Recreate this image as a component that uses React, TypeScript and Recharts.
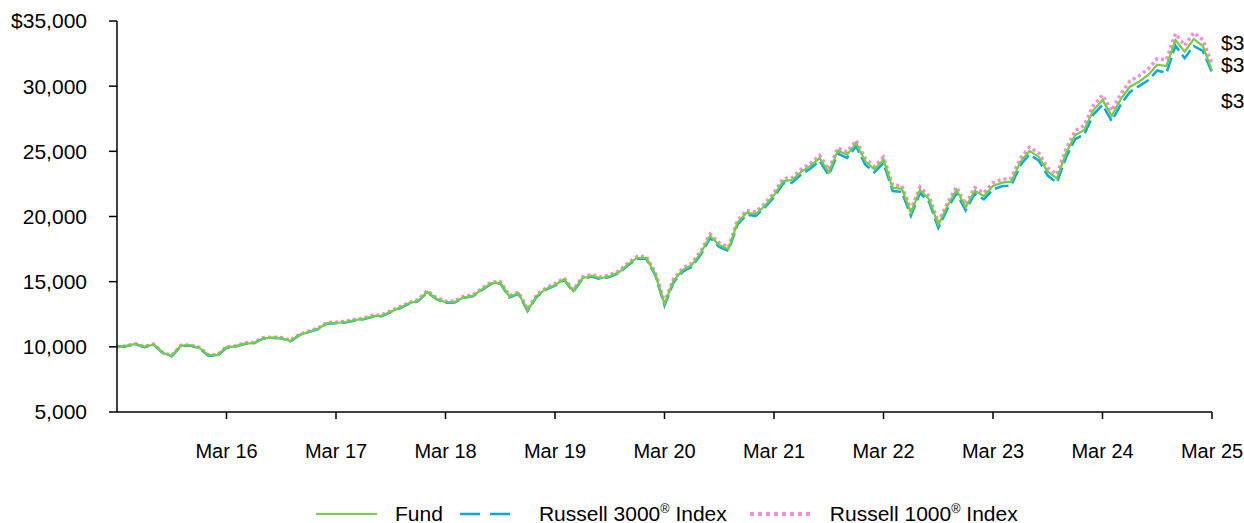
import React from "react";
import { LineChart, Line, XAxis, YAxis } from "recharts";

// ---- Data (growth of $10,000, monthly Mar 15 -> Mar 25) ----
const fund = [
  10000, 10060, 10220, 9990, 10190, 9550, 9300, 10090, 10120, 9930, 9370, 9370,
  9960, 10040, 10240, 10290, 10650, 10700, 10670, 10450, 10910, 11140, 11370, 11800,
  11830, 11900, 12040, 12140, 12340, 12390, 12700, 13000, 13340, 13540, 14230, 13690,
  13420, 13440, 13800, 13900, 14410, 14870, 14920, 13850, 14110, 12800, 13900, 14440,
  14750, 15180, 14280, 15260, 15460, 15260, 15430, 15720, 16330, 16820, 16820, 15560,
  13290, 15080, 15900, 16280, 17220, 18500, 17810, 17480, 19530, 20290, 20190, 20830,
  21650, 22720, 22800, 23440, 23880, 24470, 23390, 25050, 24750, 25620, 24240, 23620,
  24340, 22190, 22140, 20290, 22030, 21320, 19350, 20810, 22030, 20700, 21980, 21570,
  22350, 22600, 22670, 24200, 25030, 24590, 23440, 22930, 24850, 26250, 26640, 28170,
  28940, 27710, 28990, 29960, 30340, 30860, 31650, 31550, 33540, 32650, 33620, 33080,
  31190,
];

const russell3000 = [
  10000, 10050, 10210, 9980, 10170, 9530, 9280, 10060, 10090, 9900, 9320, 9320,
  9930, 10020, 10220, 10270, 10630, 10680, 10650, 10420, 10900, 11130, 11350, 11770,
  11800, 11870, 12000, 12110, 12300, 12350, 12670, 12960, 13300, 13500, 14190, 13650,
  13380, 13400, 13770, 13880, 14370, 14830, 14870, 13790, 14060, 12740, 13850, 14400,
  14700, 15120, 14220, 15200, 15400, 15190, 15370, 15660, 16260, 16760, 16750, 15490,
  13170, 14960, 15770, 16160, 17090, 18360, 17660, 17360, 19380, 20120, 20050, 20700,
  21480, 22530, 22600, 23240, 23680, 24260, 23170, 24820, 24500, 25380, 23980, 23400,
  24100, 21950, 21900, 20060, 21800, 21100, 19120, 20580, 21790, 20470, 21740, 21320,
  22080, 22320, 22380, 23930, 24760, 24300, 23140, 22600, 24530, 25930, 26300, 27820,
  28560, 27330, 28580, 29550, 30000, 30450, 31200, 31000, 33100, 32150, 33080, 32700,
  31050,
];

const russell1000 = [
  10000, 10070, 10240, 10010, 10220, 9580, 9330, 10120, 10150, 9960, 9400, 9400,
  10000, 10080, 10290, 10340, 10700, 10750, 10720, 10500, 10960, 11200, 11430, 11860,
  11890, 11960, 12100, 12200, 12410, 12460, 12770, 13070, 13410, 13620, 14310, 13770,
  13500, 13520, 13880, 13980, 14490, 14960, 15010, 13940, 14200, 12890, 13990, 14530,
  14840, 15270, 14370, 15350, 15560, 15360, 15530, 15820, 16430, 16930, 16930, 15670,
  13410, 15210, 16030, 16420, 17360, 18650, 17960, 17630, 19690, 20460, 20360, 21000,
  21830, 22910, 22990, 23640, 24080, 24680, 23600, 25260, 24960, 25840, 24460, 23840,
  24560, 22410, 22370, 20510, 22260, 21550, 19570, 21040, 22260, 20930, 22220, 21810,
  22590, 22850, 22930, 24480, 25310, 24880, 23730, 23230, 25170, 26580, 26990, 28530,
  29320, 28110, 29400, 30390, 30790, 31310, 32100, 32020, 34020, 33120, 34100, 33560,
  31700,
];

const xTicks = [12, 24, 36, 48, 60, 72, 84, 96, 108, 120];
const xTickLabels = ["Mar 16", "Mar 17", "Mar 18", "Mar 19", "Mar 20", "Mar 21", "Mar 22", "Mar 23", "Mar 24", "Mar 25"];
const yTicks = [5000, 10000, 15000, 20000, 25000, 30000, 35000];

const rows = fund.map((v, i) => ({ i, fund: v, r3000: russell3000[i], r1000: russell1000[i] }));

const FONT = '"Liberation Sans", Arial, sans-serif';
const GREEN = "#74CF3F";
const BLUE = "#0AA8E0";
const PINK = "#F28CDC";

const fmt = (v: number) => v.toLocaleString("en-US");

// end-of-line value labels, nudged apart so they don't collide
const endLabel = (dy: number) => (props: any) => {
  if (props.index !== fund.length - 1) return <g />;
  return (
    <text x={props.x + 9} y={props.y + dy} fontSize={21} fontFamily={FONT} fill="#000">
      ${fmt(props.value)}
    </text>
  );
};

const Reg = () => (
  <span style={{ fontSize: "0.6em", verticalAlign: "super", lineHeight: 0 }}>®</span>
);

export default function App() {
  return (
    // body margin dropped so the page box spans the whole 1244x523 window
    <div style={{ position: "relative", width: 1244, height: 523, overflow: "hidden", fontFamily: FONT }}>
      <style>{`body{margin:0}`}</style>
      <div style={{ position: "absolute", left: 8, top: 8 }}>
        <LineChart width={1236} height={515} data={rows} margin={{ top: 13, right: 32, left: 0, bottom: 0 }}>
          <XAxis
            dataKey="i"
            type="number"
            domain={[0, 120]}
            ticks={xTicks}
            tickFormatter={(v) => xTickLabels[xTicks.indexOf(v)]}
            tick={{ fontSize: 20, fill: "#000", fontFamily: FONT }}
            axisLine={{ stroke: "#000", strokeWidth: 1.5 }}
            tickLine={{ stroke: "#000", strokeWidth: 1.5 }}
            tickSize={7}
            tickMargin={25}
            height={111}
          />
          <YAxis
            domain={[5000, 35000]}
            ticks={yTicks}
            tickFormatter={(v) => (v === 35000 ? "$" + fmt(v) : fmt(v))}
            tick={{ fontSize: 21, fill: "#000", fontFamily: FONT }}
            axisLine={{ stroke: "#000", strokeWidth: 1.5 }}
            tickLine={{ stroke: "#000", strokeWidth: 1.5 }}
            tickSize={8}
            tickMargin={22}
            width={109}
          />
          <Line
            dataKey="r1000"
            stroke={PINK}
            strokeWidth={3.5}
            strokeDasharray="3 3"
            dot={false}
            activeDot={false}
            type="linear"
            isAnimationActive={false}
            label={endLabel(-14.5)}
          />
          <Line
            dataKey="r3000"
            stroke={BLUE}
            strokeWidth={2.5}
            strokeDasharray="14 5"
            dot={false}
            activeDot={false}
            type="linear"
            isAnimationActive={false}
            label={endLabel(36)}
          />
          <Line
            dataKey="fund"
            stroke={GREEN}
            strokeWidth={2.2}
            dot={false}
            activeDot={false}
            type="linear"
            isAnimationActive={false}
            label={endLabel(1)}
          />
        </LineChart>
      </div>

      {/* Legend */}
      <div
        style={{
          position: "absolute",
          left: 316,
          top: 502,
          height: 24,
          display: "flex",
          alignItems: "center",
          fontSize: 21,
          color: "#000",
          whiteSpace: "nowrap",
        }}
      >
        <svg width={61} height={24} style={{ marginRight: 18 }}>
          <line x1={0} y1={12} x2={61} y2={12} stroke={GREEN} strokeWidth={2.2} />
        </svg>
        <span style={{ marginRight: 17 }}>Fund</span>
        <svg width={50} height={24} style={{ marginRight: 29 }}>
          <line x1={0} y1={12} x2={50} y2={12} stroke={BLUE} strokeWidth={2.5} strokeDasharray="20 10" />
        </svg>
        <span style={{ marginRight: 23 }}>
          Russell 3000<Reg /> Index
        </span>
        <svg width={63} height={24} style={{ marginRight: 17 }}>
          <line x1={0} y1={12} x2={63} y2={12} stroke={PINK} strokeWidth={4} strokeDasharray="4 4" />
        </svg>
        <span>
          Russell 1000<Reg /> Index
        </span>
      </div>
    </div>
  );
}
